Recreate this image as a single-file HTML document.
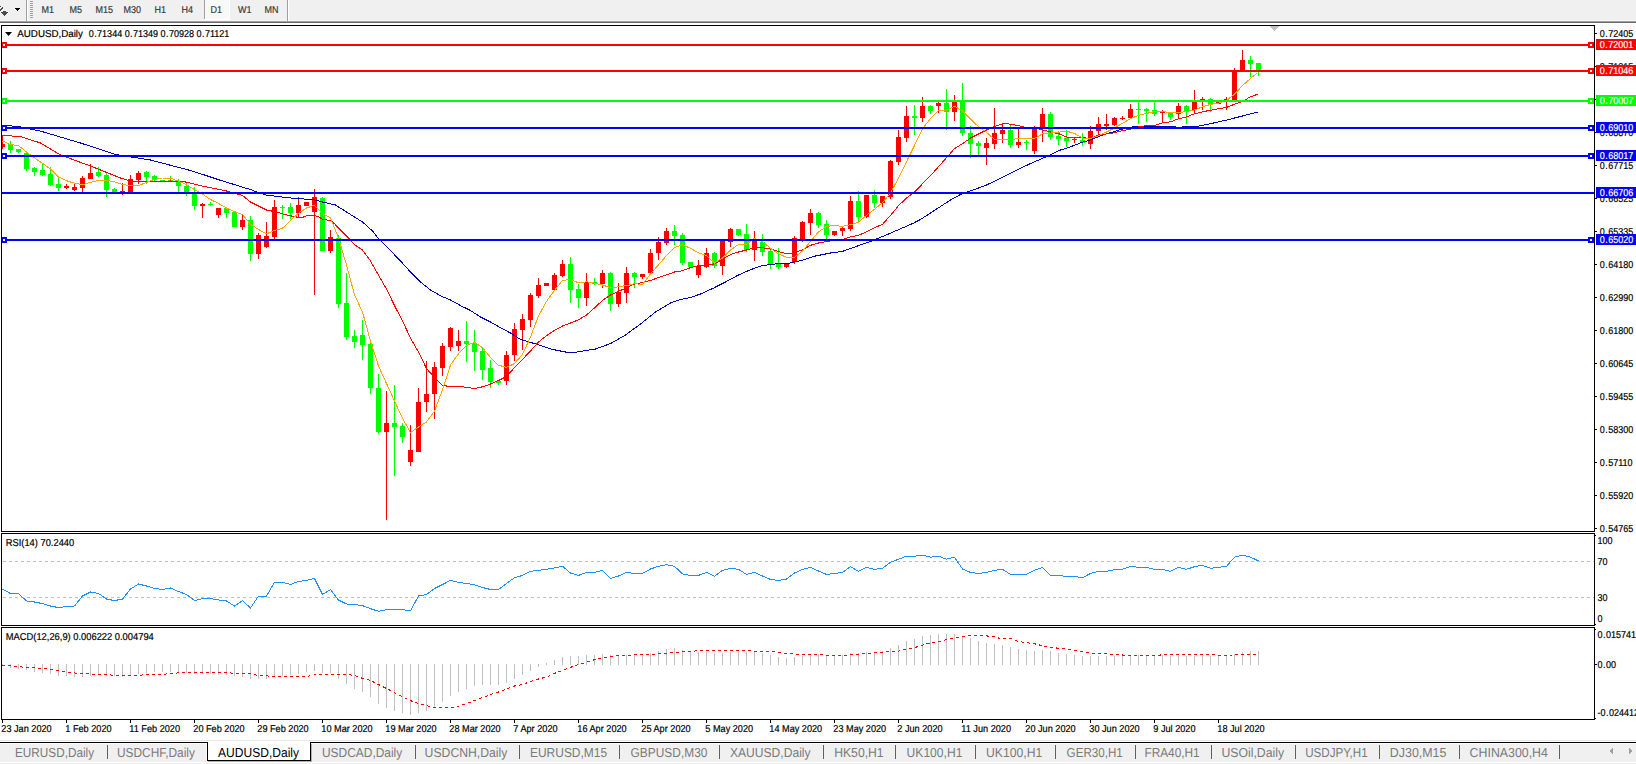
<!DOCTYPE html><html><head><meta charset="utf-8"><title>AUDUSD,Daily</title><style>
html,body{margin:0;padding:0;background:#fff;}body{width:1636px;height:764px;overflow:hidden;position:relative;font-family:"Liberation Sans",sans-serif;}
svg{position:absolute;left:0;top:0;display:block}
text{font-family:"Liberation Sans",sans-serif;font-size:10px;text-rendering:geometricPrecision;fill:#000;stroke:#000;stroke-width:0.2px}
.g{shape-rendering:crispEdges}
.tb{fill:#3a3a3a;stroke:#3a3a3a;stroke-width:0.2px}
.tab{font-size:13px;fill:#7a7a7a;stroke:none}
</style></head><body>
<svg width="1636" height="764" viewBox="0 0 1636 764">
<g class="g">
<rect x="0" y="0" width="1636" height="21" fill="#f0f0f0"/>
<rect x="0" y="20" width="1636" height="1" fill="#f7f7f7"/>
<rect x="0" y="21" width="1636" height="1" fill="#a0a0a0"/>
<rect x="0" y="22" width="1636" height="1" fill="#696969"/>
<rect x="26" y="0" width="1" height="21" fill="#a0a0a0"/>
<rect x="27" y="0" width="1" height="21" fill="#ffffff"/>
<rect x="287" y="0" width="1" height="21" fill="#a0a0a0"/>
<rect x="288" y="0" width="1" height="21" fill="#ffffff"/>
<rect x="30" y="1" width="3" height="1" fill="#a0a0a0"/>
<rect x="30" y="3" width="3" height="1" fill="#a0a0a0"/>
<rect x="30" y="5" width="3" height="1" fill="#a0a0a0"/>
<rect x="30" y="7" width="3" height="1" fill="#a0a0a0"/>
<rect x="30" y="9" width="3" height="1" fill="#a0a0a0"/>
<rect x="30" y="11" width="3" height="1" fill="#a0a0a0"/>
<rect x="30" y="13" width="3" height="1" fill="#a0a0a0"/>
<rect x="30" y="15" width="3" height="1" fill="#a0a0a0"/>
<rect x="30" y="17" width="3" height="1" fill="#a0a0a0"/>
<rect x="204" y="0" width="1" height="19" fill="#a0a0a0"/>
<rect x="205" y="0" width="24" height="19" fill="#f8f8f8"/>
<rect x="204" y="19" width="26" height="1" fill="#fff"/>
<rect x="229" y="0" width="1" height="20" fill="#fff"/>
<rect x="3" y="11" width="3" height="1" fill="#4a4a4a"/>
<rect x="1" y="12" width="7" height="1" fill="#4a4a4a"/>
<rect x="2" y="13" width="5" height="1" fill="#4a4a4a"/>
<rect x="3" y="14" width="3" height="1" fill="#4a4a4a"/>
<rect x="4" y="15" width="1" height="1" fill="#4a4a4a"/>
<rect x="0" y="6" width="1" height="1" fill="#4a4a4a"/>
<rect x="2" y="7" width="1" height="1" fill="#4a4a4a"/>
<rect x="1" y="8" width="2" height="1" fill="#4a4a4a"/>
<rect x="0" y="9" width="2" height="1" fill="#4a4a4a"/>
<rect x="0" y="10" width="1" height="1" fill="#4a4a4a"/>
<rect x="15" y="8" width="5" height="1" fill="#000"/>
<rect x="16" y="9" width="3" height="1" fill="#000"/>
<rect x="17" y="10" width="1" height="1" fill="#000"/>
<clipPath id="cp"><rect x="2" y="26" width="1592" height="505"/></clipPath><g clip-path="url(#cp)">
<rect x="2" y="136" width="1" height="13" fill="#ff0000"/>
<rect x="0" y="144" width="5" height="3" fill="#ff0000"/>
<rect x="10" y="141" width="1" height="12" fill="#00ff00"/>
<rect x="8" y="144" width="5" height="6" fill="#00ff00"/>
<rect x="18" y="149" width="1" height="4" fill="#00ff00"/>
<rect x="16" y="149" width="5" height="3" fill="#00ff00"/>
<rect x="26" y="153" width="1" height="18" fill="#00ff00"/>
<rect x="24" y="153" width="5" height="16" fill="#00ff00"/>
<rect x="34" y="167" width="1" height="9" fill="#00ff00"/>
<rect x="32" y="168" width="5" height="4" fill="#00ff00"/>
<rect x="42" y="164" width="1" height="12" fill="#00ff00"/>
<rect x="40" y="170" width="5" height="5" fill="#00ff00"/>
<rect x="50" y="167" width="1" height="19" fill="#00ff00"/>
<rect x="48" y="174" width="5" height="11" fill="#00ff00"/>
<rect x="58" y="178" width="1" height="13" fill="#00ff00"/>
<rect x="56" y="184" width="5" height="4" fill="#00ff00"/>
<rect x="66" y="184" width="1" height="5" fill="#ff0000"/>
<rect x="64" y="186" width="5" height="2" fill="#ff0000"/>
<rect x="74" y="184" width="1" height="7" fill="#ff0000"/>
<rect x="72" y="187" width="5" height="3" fill="#ff0000"/>
<rect x="82" y="176" width="1" height="16" fill="#ff0000"/>
<rect x="80" y="178" width="5" height="10" fill="#ff0000"/>
<rect x="90" y="164" width="1" height="15" fill="#ff0000"/>
<rect x="88" y="173" width="5" height="6" fill="#ff0000"/>
<rect x="98" y="167" width="1" height="10" fill="#00ff00"/>
<rect x="96" y="172" width="5" height="4" fill="#00ff00"/>
<rect x="106" y="173" width="1" height="24" fill="#00ff00"/>
<rect x="104" y="175" width="5" height="15" fill="#00ff00"/>
<rect x="114" y="188" width="1" height="4" fill="#00ff00"/>
<rect x="112" y="189" width="5" height="3" fill="#00ff00"/>
<rect x="122" y="183" width="1" height="12" fill="#ff0000"/>
<rect x="120" y="191" width="5" height="1" fill="#ff0000"/>
<rect x="130" y="175" width="1" height="18" fill="#ff0000"/>
<rect x="128" y="179" width="5" height="13" fill="#ff0000"/>
<rect x="138" y="171" width="1" height="13" fill="#ff0000"/>
<rect x="136" y="173" width="5" height="7" fill="#ff0000"/>
<rect x="146" y="171" width="1" height="13" fill="#00ff00"/>
<rect x="144" y="172" width="5" height="5" fill="#00ff00"/>
<rect x="154" y="175" width="1" height="7" fill="#00ff00"/>
<rect x="152" y="176" width="5" height="4" fill="#00ff00"/>
<rect x="162" y="180" width="1" height="2" fill="#00ff00"/>
<rect x="160" y="180" width="5" height="2" fill="#00ff00"/>
<rect x="170" y="176" width="1" height="5" fill="#00ff00"/>
<rect x="168" y="180" width="5" height="1" fill="#00ff00"/>
<rect x="178" y="179" width="1" height="13" fill="#00ff00"/>
<rect x="176" y="181" width="5" height="5" fill="#00ff00"/>
<rect x="186" y="183" width="1" height="13" fill="#00ff00"/>
<rect x="184" y="186" width="5" height="6" fill="#00ff00"/>
<rect x="194" y="187" width="1" height="23" fill="#00ff00"/>
<rect x="192" y="193" width="5" height="13" fill="#00ff00"/>
<rect x="202" y="203" width="1" height="15" fill="#ff0000"/>
<rect x="200" y="204" width="5" height="2" fill="#ff0000"/>
<rect x="210" y="202" width="1" height="4" fill="#00ff00"/>
<rect x="208" y="204" width="5" height="1" fill="#00ff00"/>
<rect x="218" y="208" width="1" height="10" fill="#ff0000"/>
<rect x="216" y="208" width="5" height="7" fill="#ff0000"/>
<rect x="226" y="207" width="1" height="11" fill="#00ff00"/>
<rect x="224" y="208" width="5" height="5" fill="#00ff00"/>
<rect x="234" y="212" width="1" height="15" fill="#00ff00"/>
<rect x="232" y="212" width="5" height="15" fill="#00ff00"/>
<rect x="242" y="215" width="1" height="15" fill="#ff0000"/>
<rect x="240" y="220" width="5" height="7" fill="#ff0000"/>
<rect x="250" y="216" width="1" height="45" fill="#00ff00"/>
<rect x="248" y="220" width="5" height="34" fill="#00ff00"/>
<rect x="258" y="233" width="1" height="26" fill="#ff0000"/>
<rect x="256" y="235" width="5" height="19" fill="#ff0000"/>
<rect x="266" y="222" width="1" height="26" fill="#ff0000"/>
<rect x="264" y="236" width="5" height="11" fill="#ff0000"/>
<rect x="274" y="200" width="1" height="39" fill="#ff0000"/>
<rect x="272" y="207" width="5" height="30" fill="#ff0000"/>
<rect x="282" y="205" width="1" height="14" fill="#00ff00"/>
<rect x="280" y="207" width="5" height="1" fill="#00ff00"/>
<rect x="290" y="203" width="1" height="16" fill="#00ff00"/>
<rect x="288" y="207" width="5" height="6" fill="#00ff00"/>
<rect x="298" y="197" width="1" height="20" fill="#ff0000"/>
<rect x="296" y="205" width="5" height="8" fill="#ff0000"/>
<rect x="306" y="202" width="1" height="4" fill="#ff0000"/>
<rect x="304" y="202" width="5" height="4" fill="#ff0000"/>
<rect x="314" y="189" width="1" height="106" fill="#ff0000"/>
<rect x="312" y="197" width="5" height="15" fill="#ff0000"/>
<rect x="322" y="197" width="1" height="54" fill="#00ff00"/>
<rect x="320" y="198" width="5" height="53" fill="#00ff00"/>
<rect x="330" y="230" width="1" height="23" fill="#ff0000"/>
<rect x="328" y="237" width="5" height="14" fill="#ff0000"/>
<rect x="338" y="235" width="1" height="73" fill="#00ff00"/>
<rect x="336" y="238" width="5" height="66" fill="#00ff00"/>
<rect x="346" y="273" width="1" height="67" fill="#00ff00"/>
<rect x="344" y="303" width="5" height="34" fill="#00ff00"/>
<rect x="354" y="330" width="1" height="18" fill="#00ff00"/>
<rect x="352" y="336" width="5" height="6" fill="#00ff00"/>
<rect x="362" y="320" width="1" height="40" fill="#00ff00"/>
<rect x="360" y="335" width="5" height="10" fill="#00ff00"/>
<rect x="370" y="339" width="1" height="55" fill="#00ff00"/>
<rect x="368" y="344" width="5" height="44" fill="#00ff00"/>
<rect x="378" y="374" width="1" height="60" fill="#00ff00"/>
<rect x="376" y="388" width="5" height="44" fill="#00ff00"/>
<rect x="386" y="391" width="1" height="129" fill="#ff0000"/>
<rect x="384" y="423" width="5" height="9" fill="#ff0000"/>
<rect x="394" y="385" width="1" height="91" fill="#00ff00"/>
<rect x="392" y="423" width="5" height="4" fill="#00ff00"/>
<rect x="402" y="423" width="1" height="20" fill="#00ff00"/>
<rect x="400" y="426" width="5" height="11" fill="#00ff00"/>
<rect x="410" y="425" width="1" height="41" fill="#ff0000"/>
<rect x="408" y="450" width="5" height="12" fill="#ff0000"/>
<rect x="418" y="388" width="1" height="64" fill="#ff0000"/>
<rect x="416" y="402" width="5" height="50" fill="#ff0000"/>
<rect x="426" y="361" width="1" height="51" fill="#ff0000"/>
<rect x="424" y="394" width="5" height="8" fill="#ff0000"/>
<rect x="434" y="362" width="1" height="57" fill="#ff0000"/>
<rect x="432" y="367" width="5" height="27" fill="#ff0000"/>
<rect x="442" y="343" width="1" height="33" fill="#ff0000"/>
<rect x="440" y="346" width="5" height="22" fill="#ff0000"/>
<rect x="450" y="327" width="1" height="24" fill="#ff0000"/>
<rect x="448" y="328" width="5" height="19" fill="#ff0000"/>
<rect x="458" y="330" width="1" height="21" fill="#ff0000"/>
<rect x="456" y="341" width="5" height="5" fill="#ff0000"/>
<rect x="466" y="321" width="1" height="41" fill="#00ff00"/>
<rect x="464" y="341" width="5" height="3" fill="#00ff00"/>
<rect x="474" y="330" width="1" height="41" fill="#00ff00"/>
<rect x="472" y="343" width="5" height="9" fill="#00ff00"/>
<rect x="482" y="347" width="1" height="33" fill="#00ff00"/>
<rect x="480" y="351" width="5" height="19" fill="#00ff00"/>
<rect x="490" y="360" width="1" height="28" fill="#00ff00"/>
<rect x="488" y="368" width="5" height="14" fill="#00ff00"/>
<rect x="498" y="381" width="1" height="4" fill="#00ff00"/>
<rect x="496" y="381" width="5" height="2" fill="#00ff00"/>
<rect x="506" y="351" width="1" height="34" fill="#ff0000"/>
<rect x="504" y="355" width="5" height="26" fill="#ff0000"/>
<rect x="514" y="323" width="1" height="38" fill="#ff0000"/>
<rect x="512" y="329" width="5" height="26" fill="#ff0000"/>
<rect x="522" y="314" width="1" height="36" fill="#ff0000"/>
<rect x="520" y="319" width="5" height="11" fill="#ff0000"/>
<rect x="530" y="293" width="1" height="34" fill="#ff0000"/>
<rect x="528" y="295" width="5" height="25" fill="#ff0000"/>
<rect x="538" y="278" width="1" height="20" fill="#ff0000"/>
<rect x="536" y="285" width="5" height="11" fill="#ff0000"/>
<rect x="546" y="283" width="1" height="3" fill="#ff0000"/>
<rect x="544" y="283" width="5" height="3" fill="#ff0000"/>
<rect x="554" y="273" width="1" height="17" fill="#ff0000"/>
<rect x="552" y="275" width="5" height="15" fill="#ff0000"/>
<rect x="562" y="260" width="1" height="17" fill="#ff0000"/>
<rect x="560" y="264" width="5" height="12" fill="#ff0000"/>
<rect x="570" y="257" width="1" height="46" fill="#00ff00"/>
<rect x="568" y="264" width="5" height="26" fill="#00ff00"/>
<rect x="578" y="284" width="1" height="24" fill="#00ff00"/>
<rect x="576" y="289" width="5" height="9" fill="#00ff00"/>
<rect x="586" y="273" width="1" height="33" fill="#ff0000"/>
<rect x="584" y="282" width="5" height="16" fill="#ff0000"/>
<rect x="594" y="278" width="1" height="7" fill="#00ff00"/>
<rect x="592" y="282" width="5" height="2" fill="#00ff00"/>
<rect x="602" y="270" width="1" height="18" fill="#ff0000"/>
<rect x="600" y="273" width="5" height="11" fill="#ff0000"/>
<rect x="610" y="272" width="1" height="39" fill="#00ff00"/>
<rect x="608" y="273" width="5" height="31" fill="#00ff00"/>
<rect x="618" y="283" width="1" height="24" fill="#ff0000"/>
<rect x="616" y="292" width="5" height="12" fill="#ff0000"/>
<rect x="626" y="267" width="1" height="36" fill="#ff0000"/>
<rect x="624" y="273" width="5" height="20" fill="#ff0000"/>
<rect x="634" y="272" width="1" height="16" fill="#00ff00"/>
<rect x="632" y="273" width="5" height="4" fill="#00ff00"/>
<rect x="642" y="274" width="1" height="5" fill="#ff0000"/>
<rect x="640" y="274" width="5" height="3" fill="#ff0000"/>
<rect x="650" y="249" width="1" height="24" fill="#ff0000"/>
<rect x="648" y="253" width="5" height="20" fill="#ff0000"/>
<rect x="658" y="237" width="1" height="23" fill="#ff0000"/>
<rect x="656" y="242" width="5" height="11" fill="#ff0000"/>
<rect x="666" y="228" width="1" height="17" fill="#ff0000"/>
<rect x="664" y="231" width="5" height="12" fill="#ff0000"/>
<rect x="674" y="225" width="1" height="20" fill="#00ff00"/>
<rect x="672" y="231" width="5" height="5" fill="#00ff00"/>
<rect x="682" y="233" width="1" height="32" fill="#00ff00"/>
<rect x="680" y="235" width="5" height="28" fill="#00ff00"/>
<rect x="690" y="262" width="1" height="5" fill="#00ff00"/>
<rect x="688" y="262" width="5" height="5" fill="#00ff00"/>
<rect x="698" y="260" width="1" height="18" fill="#ff0000"/>
<rect x="696" y="266" width="5" height="9" fill="#ff0000"/>
<rect x="706" y="248" width="1" height="20" fill="#ff0000"/>
<rect x="704" y="253" width="5" height="14" fill="#ff0000"/>
<rect x="714" y="252" width="1" height="16" fill="#00ff00"/>
<rect x="712" y="253" width="5" height="13" fill="#00ff00"/>
<rect x="722" y="240" width="1" height="35" fill="#ff0000"/>
<rect x="720" y="240" width="5" height="26" fill="#ff0000"/>
<rect x="730" y="228" width="1" height="19" fill="#ff0000"/>
<rect x="728" y="229" width="5" height="13" fill="#ff0000"/>
<rect x="738" y="229" width="1" height="7" fill="#00ff00"/>
<rect x="736" y="229" width="5" height="6" fill="#00ff00"/>
<rect x="746" y="224" width="1" height="28" fill="#00ff00"/>
<rect x="744" y="234" width="5" height="16" fill="#00ff00"/>
<rect x="754" y="231" width="1" height="30" fill="#ff0000"/>
<rect x="752" y="239" width="5" height="11" fill="#ff0000"/>
<rect x="762" y="234" width="1" height="22" fill="#00ff00"/>
<rect x="760" y="242" width="5" height="10" fill="#00ff00"/>
<rect x="770" y="250" width="1" height="19" fill="#00ff00"/>
<rect x="768" y="251" width="5" height="13" fill="#00ff00"/>
<rect x="778" y="248" width="1" height="21" fill="#00ff00"/>
<rect x="776" y="264" width="5" height="3" fill="#00ff00"/>
<rect x="786" y="264" width="1" height="4" fill="#ff0000"/>
<rect x="784" y="264" width="5" height="3" fill="#ff0000"/>
<rect x="794" y="236" width="1" height="28" fill="#ff0000"/>
<rect x="792" y="238" width="5" height="24" fill="#ff0000"/>
<rect x="802" y="221" width="1" height="21" fill="#ff0000"/>
<rect x="800" y="222" width="5" height="17" fill="#ff0000"/>
<rect x="810" y="209" width="1" height="26" fill="#ff0000"/>
<rect x="808" y="213" width="5" height="10" fill="#ff0000"/>
<rect x="818" y="212" width="1" height="16" fill="#00ff00"/>
<rect x="816" y="213" width="5" height="12" fill="#00ff00"/>
<rect x="826" y="220" width="1" height="19" fill="#00ff00"/>
<rect x="824" y="224" width="5" height="11" fill="#00ff00"/>
<rect x="834" y="231" width="1" height="5" fill="#ff0000"/>
<rect x="832" y="231" width="5" height="4" fill="#ff0000"/>
<rect x="842" y="226" width="1" height="10" fill="#ff0000"/>
<rect x="840" y="228" width="5" height="3" fill="#ff0000"/>
<rect x="850" y="196" width="1" height="35" fill="#ff0000"/>
<rect x="848" y="201" width="5" height="28" fill="#ff0000"/>
<rect x="858" y="191" width="1" height="31" fill="#00ff00"/>
<rect x="856" y="201" width="5" height="16" fill="#00ff00"/>
<rect x="866" y="195" width="1" height="23" fill="#ff0000"/>
<rect x="864" y="195" width="5" height="22" fill="#ff0000"/>
<rect x="874" y="190" width="1" height="18" fill="#00ff00"/>
<rect x="872" y="195" width="5" height="8" fill="#00ff00"/>
<rect x="882" y="196" width="1" height="11" fill="#ff0000"/>
<rect x="880" y="196" width="5" height="7" fill="#ff0000"/>
<rect x="890" y="160" width="1" height="39" fill="#ff0000"/>
<rect x="888" y="161" width="5" height="36" fill="#ff0000"/>
<rect x="898" y="130" width="1" height="35" fill="#ff0000"/>
<rect x="896" y="137" width="5" height="25" fill="#ff0000"/>
<rect x="906" y="106" width="1" height="36" fill="#ff0000"/>
<rect x="904" y="116" width="5" height="22" fill="#ff0000"/>
<rect x="914" y="105" width="1" height="30" fill="#00ff00"/>
<rect x="912" y="116" width="5" height="2" fill="#00ff00"/>
<rect x="922" y="97" width="1" height="25" fill="#ff0000"/>
<rect x="920" y="106" width="5" height="12" fill="#ff0000"/>
<rect x="930" y="105" width="1" height="9" fill="#00ff00"/>
<rect x="928" y="106" width="5" height="5" fill="#00ff00"/>
<rect x="938" y="102" width="1" height="11" fill="#ff0000"/>
<rect x="936" y="103" width="5" height="3" fill="#ff0000"/>
<rect x="946" y="89" width="1" height="41" fill="#00ff00"/>
<rect x="944" y="103" width="5" height="9" fill="#00ff00"/>
<rect x="954" y="95" width="1" height="26" fill="#ff0000"/>
<rect x="952" y="102" width="5" height="10" fill="#ff0000"/>
<rect x="962" y="83" width="1" height="53" fill="#00ff00"/>
<rect x="960" y="102" width="5" height="31" fill="#00ff00"/>
<rect x="970" y="126" width="1" height="32" fill="#00ff00"/>
<rect x="968" y="133" width="5" height="11" fill="#00ff00"/>
<rect x="978" y="141" width="1" height="14" fill="#00ff00"/>
<rect x="976" y="143" width="5" height="3" fill="#00ff00"/>
<rect x="986" y="138" width="1" height="27" fill="#ff0000"/>
<rect x="984" y="143" width="5" height="5" fill="#ff0000"/>
<rect x="994" y="108" width="1" height="41" fill="#ff0000"/>
<rect x="992" y="133" width="5" height="11" fill="#ff0000"/>
<rect x="1002" y="123" width="1" height="20" fill="#ff0000"/>
<rect x="1000" y="130" width="5" height="4" fill="#ff0000"/>
<rect x="1010" y="125" width="1" height="23" fill="#00ff00"/>
<rect x="1008" y="130" width="5" height="15" fill="#00ff00"/>
<rect x="1018" y="127" width="1" height="21" fill="#ff0000"/>
<rect x="1016" y="142" width="5" height="3" fill="#ff0000"/>
<rect x="1026" y="140" width="1" height="10" fill="#00ff00"/>
<rect x="1024" y="142" width="5" height="1" fill="#00ff00"/>
<rect x="1034" y="126" width="1" height="28" fill="#ff0000"/>
<rect x="1032" y="129" width="5" height="22" fill="#ff0000"/>
<rect x="1042" y="108" width="1" height="34" fill="#ff0000"/>
<rect x="1040" y="114" width="5" height="15" fill="#ff0000"/>
<rect x="1050" y="112" width="1" height="28" fill="#00ff00"/>
<rect x="1048" y="114" width="5" height="23" fill="#00ff00"/>
<rect x="1058" y="131" width="1" height="14" fill="#00ff00"/>
<rect x="1056" y="136" width="5" height="3" fill="#00ff00"/>
<rect x="1066" y="130" width="1" height="17" fill="#00ff00"/>
<rect x="1064" y="138" width="5" height="3" fill="#00ff00"/>
<rect x="1074" y="137" width="1" height="6" fill="#ff0000"/>
<rect x="1072" y="139" width="5" height="1" fill="#ff0000"/>
<rect x="1082" y="133" width="1" height="13" fill="#00ff00"/>
<rect x="1080" y="140" width="5" height="3" fill="#00ff00"/>
<rect x="1090" y="126" width="1" height="23" fill="#ff0000"/>
<rect x="1088" y="131" width="5" height="13" fill="#ff0000"/>
<rect x="1098" y="117" width="1" height="18" fill="#ff0000"/>
<rect x="1096" y="124" width="5" height="7" fill="#ff0000"/>
<rect x="1106" y="114" width="1" height="16" fill="#ff0000"/>
<rect x="1104" y="124" width="5" height="2" fill="#ff0000"/>
<rect x="1114" y="117" width="1" height="9" fill="#ff0000"/>
<rect x="1112" y="118" width="5" height="7" fill="#ff0000"/>
<rect x="1122" y="116" width="1" height="4" fill="#ff0000"/>
<rect x="1120" y="118" width="5" height="1" fill="#ff0000"/>
<rect x="1130" y="104" width="1" height="14" fill="#ff0000"/>
<rect x="1128" y="109" width="5" height="9" fill="#ff0000"/>
<rect x="1138" y="102" width="1" height="22" fill="#00ff00"/>
<rect x="1136" y="109" width="5" height="1" fill="#00ff00"/>
<rect x="1146" y="108" width="1" height="14" fill="#00ff00"/>
<rect x="1144" y="109" width="5" height="2" fill="#00ff00"/>
<rect x="1154" y="102" width="1" height="14" fill="#00ff00"/>
<rect x="1152" y="110" width="5" height="4" fill="#00ff00"/>
<rect x="1162" y="110" width="1" height="13" fill="#ff0000"/>
<rect x="1160" y="112" width="5" height="1" fill="#ff0000"/>
<rect x="1170" y="112" width="1" height="8" fill="#00ff00"/>
<rect x="1168" y="113" width="5" height="4" fill="#00ff00"/>
<rect x="1178" y="103" width="1" height="16" fill="#ff0000"/>
<rect x="1176" y="106" width="5" height="8" fill="#ff0000"/>
<rect x="1186" y="105" width="1" height="19" fill="#00ff00"/>
<rect x="1184" y="106" width="5" height="5" fill="#00ff00"/>
<rect x="1194" y="90" width="1" height="23" fill="#ff0000"/>
<rect x="1192" y="102" width="5" height="8" fill="#ff0000"/>
<rect x="1202" y="97" width="1" height="13" fill="#ff0000"/>
<rect x="1200" y="99" width="5" height="1" fill="#ff0000"/>
<rect x="1210" y="98" width="1" height="14" fill="#00ff00"/>
<rect x="1208" y="99" width="5" height="5" fill="#00ff00"/>
<rect x="1218" y="102" width="1" height="2" fill="#ff0000"/>
<rect x="1216" y="102" width="5" height="2" fill="#ff0000"/>
<rect x="1226" y="97" width="1" height="13" fill="#ff0000"/>
<rect x="1224" y="99" width="5" height="1" fill="#ff0000"/>
<rect x="1234" y="68" width="1" height="32" fill="#ff0000"/>
<rect x="1232" y="71" width="5" height="29" fill="#ff0000"/>
<rect x="1242" y="50" width="1" height="21" fill="#ff0000"/>
<rect x="1240" y="60" width="5" height="11" fill="#ff0000"/>
<rect x="1250" y="56" width="1" height="21" fill="#00ff00"/>
<rect x="1248" y="60" width="5" height="4" fill="#00ff00"/>
<rect x="1258" y="63" width="1" height="13" fill="#00ff00"/>
<rect x="1256" y="63" width="5" height="7" fill="#00ff00"/>
</g>
</g>
<g class="g">
<polyline points="2.5,125.0 20.5,127.0 40.5,131.1 80.5,143.0 115.5,154.5 150.5,160.0 188.5,170.0 200.5,173.7 219.5,180.0 250.5,189.6 265.5,195.0 290.5,198.0 314.5,199.8 322.5,202.0 335.5,205.0 350.5,214.5 362.5,222.0 372.5,231.0 378.5,238.8 390.5,250.6 400.5,261.0 410.5,272.0 420.5,282.0 430.5,290.0 440.5,295.8 450.5,300.0 460.5,305.6 470.5,310.5 480.5,317.0 490.5,322.0 500.5,327.7 510.5,333.0 520.5,339.4 540.5,345.4 550.5,349.0 560.5,351.0 570.5,353.0 580.5,351.4 595.5,349.0 610.5,343.6 625.5,335.0 640.5,324.0 655.5,312.0 670.5,303.0 680.5,299.6 690.5,297.4 700.5,294.0 712.5,288.6 725.5,282.0 738.5,275.0 750.5,269.7 762.5,265.5 775.5,264.0 785.5,263.9 800.5,260.7 815.5,256.0 830.5,253.0 842.5,251.4 855.5,246.7 870.5,241.5 885.5,235.3 900.5,228.8 912.5,223.6 920.5,219.5 950.5,200.0 960.5,194.5 970.5,190.9 985.5,185.5 1000.5,178.3 1015.5,170.8 1030.5,163.5 1045.5,157.1 1060.5,150.0 1070.5,146.8 1080.5,142.9 1090.5,139.8 1100.5,135.8 1110.5,132.7 1120.5,129.6 1128.5,128.0 1134.5,126.1 1174.5,126.1 1176.5,127.5 1181.5,127.5 1183.5,126.1 1198.5,126.1 1210.5,123.7 1225.5,120.3 1240.5,116.5 1258.0,112.1" fill="none" stroke="#0000b4" stroke-width="1" />
<polyline points="2.5,135.5 20.5,136.5 40.5,143.0 60.5,155.0 90.5,166.0 120.5,178.0 130.5,181.0 150.5,181.5 165.5,182.0 170.5,181.0 180.5,181.5 185.5,182.0 200.5,185.6 226.5,191.0 242.5,195.5 250.5,202.0 258.5,206.0 266.5,210.0 274.5,211.6 282.5,213.8 290.5,215.8 298.5,217.4 302.5,217.4 306.5,215.8 314.5,215.8 318.5,216.5 322.5,219.5 330.5,220.4 334.5,223.7 338.5,228.0 346.5,236.0 354.5,244.6 362.5,250.0 370.5,261.0 378.5,275.0 386.5,289.0 394.5,305.6 402.5,321.0 410.5,338.0 418.5,352.0 426.5,368.5 434.5,377.5 442.5,385.5 450.5,386.5 458.5,386.5 466.5,387.3 474.5,388.5 482.5,386.8 490.5,384.0 498.5,380.5 506.5,376.6 514.5,367.5 522.5,359.4 530.5,351.0 538.5,342.0 546.5,335.7 554.5,330.4 562.5,326.0 570.5,323.0 578.5,319.8 586.5,315.0 594.5,307.9 602.5,300.5 610.5,295.0 618.5,291.4 626.5,287.7 634.5,284.0 642.5,282.6 650.5,280.4 658.5,277.6 666.5,274.9 674.5,272.0 682.5,270.7 690.5,267.6 698.5,265.7 706.5,264.8 714.5,263.9 722.5,259.3 730.5,254.5 738.5,252.0 746.5,250.0 754.5,247.7 762.5,247.7 770.5,249.0 778.5,251.5 786.5,253.8 794.5,252.9 802.5,249.7 810.5,245.3 818.5,243.0 826.5,241.5 834.5,240.4 842.5,239.4 850.5,236.9 858.5,235.3 866.5,231.9 874.5,227.7 882.5,224.3 890.5,215.4 898.5,205.7 906.5,198.0 914.5,192.0 922.5,183.8 930.5,175.7 938.5,166.7 946.5,157.7 954.5,148.6 962.5,143.7 970.5,138.0 978.5,134.0 986.5,130.0 994.5,126.6 1002.5,123.7 1010.5,124.1 1018.5,125.7 1026.5,127.7 1034.5,128.0 1042.5,129.8 1050.5,132.0 1058.5,133.6 1066.5,137.0 1074.5,137.2 1082.5,137.4 1090.5,138.7 1098.5,135.0 1106.5,134.0 1114.5,132.7 1122.5,130.7 1130.5,129.0 1138.5,127.0 1146.5,125.6 1154.5,125.4 1162.5,122.8 1170.5,121.8 1178.5,118.8 1186.5,116.8 1194.5,113.8 1202.5,111.8 1210.5,110.2 1218.5,108.8 1226.5,107.4 1234.5,104.2 1242.5,101.4 1250.5,96.8 1257.5,94.3" fill="none" stroke="#ff0000" stroke-width="1" />
<polyline points="2.5,141.0 10.5,144.5 18.5,145.6 26.5,152.0 34.5,157.8 42.5,163.4 50.5,169.0 58.5,177.0 66.5,180.7 74.5,183.3 82.5,184.6 90.5,182.4 98.5,180.4 106.5,180.4 114.5,181.7 122.5,184.6 130.5,185.6 138.5,185.6 146.5,182.4 154.5,179.4 162.5,178.0 170.5,178.0 178.5,181.3 186.5,184.6 194.5,189.6 202.5,194.2 210.5,199.5 218.5,203.4 226.5,208.0 234.5,211.6 242.5,214.5 250.5,224.3 258.5,229.5 266.5,233.9 274.5,230.5 282.5,228.2 290.5,220.4 298.5,213.2 306.5,208.0 314.5,205.3 322.5,213.8 330.5,217.8 338.5,238.0 346.5,265.0 354.5,294.8 362.5,312.0 370.5,341.0 378.5,366.0 386.5,383.5 394.5,401.0 402.5,418.4 410.5,432.5 418.5,427.0 426.5,422.0 434.5,411.0 442.5,389.8 450.5,365.0 458.5,353.7 466.5,345.6 474.5,342.3 482.5,347.6 490.5,357.5 498.5,365.2 506.5,367.4 514.5,363.5 522.5,354.5 530.5,337.0 538.5,316.0 546.5,301.4 554.5,290.5 562.5,280.4 570.5,279.5 578.5,282.8 586.5,281.8 594.5,283.1 602.5,285.0 610.5,287.7 618.5,286.8 626.5,285.5 634.5,283.7 642.5,284.4 650.5,274.0 658.5,264.8 666.5,255.6 674.5,247.4 682.5,244.7 690.5,248.3 698.5,252.9 706.5,255.6 714.5,263.0 722.5,258.0 730.5,250.0 738.5,244.5 746.5,244.2 754.5,238.3 762.5,241.5 770.5,248.4 778.5,253.8 786.5,257.3 794.5,257.3 802.5,251.1 810.5,241.5 818.5,231.9 826.5,226.4 834.5,225.4 842.5,226.4 850.5,224.7 858.5,222.2 866.5,215.4 874.5,209.2 882.5,202.7 890.5,193.0 898.5,178.0 906.5,161.7 914.5,145.4 922.5,129.0 930.5,118.4 938.5,110.7 946.5,110.2 954.5,106.1 962.5,111.0 970.5,119.2 978.5,126.6 986.5,132.3 994.5,139.4 1002.5,139.4 1010.5,139.4 1018.5,138.7 1026.5,138.7 1034.5,138.3 1042.5,133.9 1050.5,133.1 1058.5,132.3 1066.5,131.1 1074.5,133.5 1082.5,138.0 1090.5,138.7 1098.5,135.8 1106.5,132.0 1114.5,128.0 1122.5,123.3 1130.5,118.6 1138.5,115.4 1146.5,113.5 1154.5,111.5 1162.5,111.5 1170.5,112.6 1178.5,112.6 1186.5,111.5 1194.5,110.0 1202.5,106.8 1210.5,104.4 1218.5,103.2 1226.5,100.5 1234.5,94.2 1242.5,85.6 1250.5,78.5 1257.5,72.7" fill="none" stroke="#ffa500" stroke-width="1" />
<rect x="1" y="44" width="1594" height="2" fill="#ff0000"/>
<rect x="1" y="42" width="6" height="6" fill="#ff0000"/>
<rect x="3" y="44" width="2" height="2" fill="#fff"/>
<rect x="1588" y="42" width="6" height="6" fill="#ff0000"/>
<rect x="1590" y="44" width="2" height="2" fill="#fff"/>
<rect x="1" y="70" width="1594" height="2" fill="#ff0000"/>
<rect x="1" y="68" width="6" height="6" fill="#ff0000"/>
<rect x="3" y="70" width="2" height="2" fill="#fff"/>
<rect x="1588" y="68" width="6" height="6" fill="#ff0000"/>
<rect x="1590" y="70" width="2" height="2" fill="#fff"/>
<rect x="1" y="100" width="1594" height="2" fill="#00ff00"/>
<rect x="1" y="98" width="6" height="6" fill="#00ff00"/>
<rect x="3" y="100" width="2" height="2" fill="#fff"/>
<rect x="1588" y="98" width="6" height="6" fill="#00ff00"/>
<rect x="1590" y="100" width="2" height="2" fill="#fff"/>
<rect x="1" y="127" width="1594" height="2" fill="#0000ff"/>
<rect x="1" y="125" width="6" height="6" fill="#0000ff"/>
<rect x="3" y="127" width="2" height="2" fill="#fff"/>
<rect x="1588" y="125" width="6" height="6" fill="#0000ff"/>
<rect x="1590" y="127" width="2" height="2" fill="#fff"/>
<rect x="1" y="155" width="1594" height="2" fill="#0000ff"/>
<rect x="1" y="153" width="6" height="6" fill="#0000ff"/>
<rect x="3" y="155" width="2" height="2" fill="#fff"/>
<rect x="1588" y="153" width="6" height="6" fill="#0000ff"/>
<rect x="1590" y="155" width="2" height="2" fill="#fff"/>
<rect x="1" y="192" width="1594" height="2" fill="#0000ff"/>
<rect x="1" y="239" width="1594" height="2" fill="#0000ff"/>
<rect x="1" y="237" width="6" height="6" fill="#0000ff"/>
<rect x="3" y="239" width="2" height="2" fill="#fff"/>
<rect x="1588" y="237" width="6" height="6" fill="#0000ff"/>
<rect x="1590" y="239" width="2" height="2" fill="#fff"/>
<rect x="1270" y="26" width="9" height="1" fill="#c0c0c0"/>
<rect x="1271" y="27" width="7" height="1" fill="#c0c0c0"/>
<rect x="1272" y="28" width="5" height="1" fill="#c0c0c0"/>
<rect x="1273" y="29" width="3" height="1" fill="#c0c0c0"/>
<rect x="1274" y="30" width="1" height="1" fill="#c0c0c0"/>
<line x1="3" y1="561.5" x2="1594" y2="561.5" stroke="#c0c0c0" stroke-width="1" stroke-dasharray="3 3"/>
<line x1="3" y1="597.5" x2="1594" y2="597.5" stroke="#c0c0c0" stroke-width="1" stroke-dasharray="3 3"/>
<polyline points="2.5,589.0 10.5,593.5 18.5,593.5 26.5,601.0 34.5,602.0 42.5,603.6 50.5,606.0 58.5,607.6 66.5,606.6 74.5,606.0 82.5,596.0 90.5,592.0 98.5,593.5 106.5,599.0 114.5,600.6 122.5,599.0 130.5,589.0 138.5,584.0 146.5,586.0 154.5,588.5 162.5,589.5 170.5,588.0 178.5,591.5 186.5,594.5 194.5,600.6 202.5,598.6 210.5,598.6 218.5,600.0 226.5,601.0 234.5,606.0 242.5,600.6 250.5,608.0 258.5,596.0 266.5,596.0 274.5,582.4 282.5,582.4 290.5,584.5 298.5,581.4 306.5,580.4 314.5,578.4 322.5,594.5 330.5,589.5 338.5,600.0 346.5,604.0 354.5,604.6 362.5,605.6 370.5,608.7 378.5,611.3 386.5,609.7 394.5,609.7 402.5,609.7 410.5,610.7 418.5,596.0 426.5,594.5 434.5,588.5 442.5,584.5 450.5,580.4 458.5,582.4 466.5,583.4 474.5,584.9 482.5,587.5 490.5,589.5 498.5,589.5 506.5,583.4 514.5,577.8 522.5,575.4 530.5,571.3 538.5,570.3 546.5,569.3 554.5,567.9 562.5,566.3 570.5,573.0 578.5,575.4 586.5,572.4 594.5,572.4 602.5,570.3 610.5,578.4 618.5,576.0 626.5,572.4 634.5,573.4 642.5,573.4 650.5,569.0 658.5,566.3 666.5,564.7 674.5,566.3 682.5,574.0 690.5,575.4 698.5,575.4 706.5,572.4 714.5,576.4 722.5,570.3 730.5,568.3 738.5,569.3 746.5,574.4 754.5,572.4 762.5,576.0 770.5,579.4 778.5,580.4 786.5,579.0 794.5,573.0 802.5,569.3 810.5,567.3 818.5,571.0 826.5,574.4 834.5,573.4 842.5,572.4 850.5,566.7 858.5,571.3 866.5,567.3 874.5,569.3 882.5,568.3 890.5,562.3 898.5,559.2 906.5,556.2 914.5,556.2 922.5,555.2 930.5,557.2 938.5,556.2 946.5,559.2 954.5,557.2 962.5,569.0 970.5,572.4 978.5,573.4 986.5,572.4 994.5,570.3 1002.5,569.3 1010.5,574.4 1018.5,574.4 1026.5,574.4 1034.5,570.3 1042.5,567.3 1050.5,575.4 1058.5,575.4 1066.5,576.4 1074.5,576.4 1082.5,577.8 1090.5,573.4 1098.5,571.3 1106.5,571.3 1114.5,569.7 1122.5,569.3 1130.5,566.3 1138.5,567.3 1146.5,567.3 1154.5,569.3 1162.5,569.3 1170.5,571.3 1178.5,567.3 1186.5,569.3 1194.5,566.7 1202.5,565.3 1210.5,568.3 1218.5,567.3 1226.5,566.3 1234.5,557.2 1242.5,555.2 1250.5,557.2 1258.5,560.9" fill="none" stroke="#1e90ff" stroke-width="1" />
<rect x="2" y="664" width="1" height="2" fill="#c0c0c0"/>
<rect x="10" y="664" width="1" height="4" fill="#c0c0c0"/>
<rect x="18" y="664" width="1" height="5" fill="#c0c0c0"/>
<rect x="26" y="664" width="1" height="6" fill="#c0c0c0"/>
<rect x="34" y="664" width="1" height="8" fill="#c0c0c0"/>
<rect x="42" y="664" width="1" height="9" fill="#c0c0c0"/>
<rect x="50" y="664" width="1" height="10" fill="#c0c0c0"/>
<rect x="58" y="664" width="1" height="12" fill="#c0c0c0"/>
<rect x="66" y="664" width="1" height="12" fill="#c0c0c0"/>
<rect x="74" y="664" width="1" height="13" fill="#c0c0c0"/>
<rect x="82" y="664" width="1" height="13" fill="#c0c0c0"/>
<rect x="90" y="664" width="1" height="12" fill="#c0c0c0"/>
<rect x="98" y="664" width="1" height="11" fill="#c0c0c0"/>
<rect x="106" y="664" width="1" height="12" fill="#c0c0c0"/>
<rect x="114" y="664" width="1" height="12" fill="#c0c0c0"/>
<rect x="122" y="664" width="1" height="13" fill="#c0c0c0"/>
<rect x="130" y="664" width="1" height="11" fill="#c0c0c0"/>
<rect x="138" y="664" width="1" height="10" fill="#c0c0c0"/>
<rect x="146" y="664" width="1" height="9" fill="#c0c0c0"/>
<rect x="154" y="664" width="1" height="8" fill="#c0c0c0"/>
<rect x="162" y="664" width="1" height="8" fill="#c0c0c0"/>
<rect x="170" y="664" width="1" height="8" fill="#c0c0c0"/>
<rect x="178" y="664" width="1" height="8" fill="#c0c0c0"/>
<rect x="186" y="664" width="1" height="9" fill="#c0c0c0"/>
<rect x="194" y="664" width="1" height="10" fill="#c0c0c0"/>
<rect x="202" y="664" width="1" height="10" fill="#c0c0c0"/>
<rect x="210" y="664" width="1" height="10" fill="#c0c0c0"/>
<rect x="218" y="664" width="1" height="11" fill="#c0c0c0"/>
<rect x="226" y="664" width="1" height="11" fill="#c0c0c0"/>
<rect x="234" y="664" width="1" height="12" fill="#c0c0c0"/>
<rect x="242" y="664" width="1" height="13" fill="#c0c0c0"/>
<rect x="250" y="664" width="1" height="15" fill="#c0c0c0"/>
<rect x="258" y="664" width="1" height="15" fill="#c0c0c0"/>
<rect x="266" y="664" width="1" height="15" fill="#c0c0c0"/>
<rect x="274" y="664" width="1" height="13" fill="#c0c0c0"/>
<rect x="282" y="664" width="1" height="12" fill="#c0c0c0"/>
<rect x="290" y="664" width="1" height="11" fill="#c0c0c0"/>
<rect x="298" y="664" width="1" height="10" fill="#c0c0c0"/>
<rect x="306" y="664" width="1" height="8" fill="#c0c0c0"/>
<rect x="314" y="664" width="1" height="7" fill="#c0c0c0"/>
<rect x="322" y="664" width="1" height="9" fill="#c0c0c0"/>
<rect x="330" y="664" width="1" height="9" fill="#c0c0c0"/>
<rect x="338" y="664" width="1" height="15" fill="#c0c0c0"/>
<rect x="346" y="664" width="1" height="20" fill="#c0c0c0"/>
<rect x="354" y="664" width="1" height="25" fill="#c0c0c0"/>
<rect x="362" y="664" width="1" height="28" fill="#c0c0c0"/>
<rect x="370" y="664" width="1" height="33" fill="#c0c0c0"/>
<rect x="378" y="664" width="1" height="40" fill="#c0c0c0"/>
<rect x="386" y="664" width="1" height="44" fill="#c0c0c0"/>
<rect x="394" y="664" width="1" height="47" fill="#c0c0c0"/>
<rect x="402" y="664" width="1" height="49" fill="#c0c0c0"/>
<rect x="410" y="664" width="1" height="51" fill="#c0c0c0"/>
<rect x="418" y="664" width="1" height="49" fill="#c0c0c0"/>
<rect x="426" y="664" width="1" height="47" fill="#c0c0c0"/>
<rect x="434" y="664" width="1" height="43" fill="#c0c0c0"/>
<rect x="442" y="664" width="1" height="38" fill="#c0c0c0"/>
<rect x="450" y="664" width="1" height="32" fill="#c0c0c0"/>
<rect x="458" y="664" width="1" height="28" fill="#c0c0c0"/>
<rect x="466" y="664" width="1" height="25" fill="#c0c0c0"/>
<rect x="474" y="664" width="1" height="22" fill="#c0c0c0"/>
<rect x="482" y="664" width="1" height="21" fill="#c0c0c0"/>
<rect x="490" y="664" width="1" height="21" fill="#c0c0c0"/>
<rect x="498" y="664" width="1" height="21" fill="#c0c0c0"/>
<rect x="506" y="664" width="1" height="19" fill="#c0c0c0"/>
<rect x="514" y="664" width="1" height="15" fill="#c0c0c0"/>
<rect x="522" y="664" width="1" height="11" fill="#c0c0c0"/>
<rect x="530" y="664" width="1" height="7" fill="#c0c0c0"/>
<rect x="538" y="664" width="1" height="3" fill="#c0c0c0"/>
<rect x="546" y="663" width="1" height="2" fill="#c0c0c0"/>
<rect x="554" y="660" width="1" height="5" fill="#c0c0c0"/>
<rect x="562" y="657" width="1" height="8" fill="#c0c0c0"/>
<rect x="570" y="656" width="1" height="9" fill="#c0c0c0"/>
<rect x="578" y="656" width="1" height="9" fill="#c0c0c0"/>
<rect x="586" y="655" width="1" height="10" fill="#c0c0c0"/>
<rect x="594" y="655" width="1" height="10" fill="#c0c0c0"/>
<rect x="602" y="654" width="1" height="11" fill="#c0c0c0"/>
<rect x="610" y="655" width="1" height="10" fill="#c0c0c0"/>
<rect x="618" y="655" width="1" height="10" fill="#c0c0c0"/>
<rect x="626" y="655" width="1" height="10" fill="#c0c0c0"/>
<rect x="634" y="654" width="1" height="11" fill="#c0c0c0"/>
<rect x="642" y="654" width="1" height="11" fill="#c0c0c0"/>
<rect x="650" y="653" width="1" height="12" fill="#c0c0c0"/>
<rect x="658" y="651" width="1" height="14" fill="#c0c0c0"/>
<rect x="666" y="649" width="1" height="16" fill="#c0c0c0"/>
<rect x="674" y="648" width="1" height="17" fill="#c0c0c0"/>
<rect x="682" y="650" width="1" height="15" fill="#c0c0c0"/>
<rect x="690" y="651" width="1" height="14" fill="#c0c0c0"/>
<rect x="698" y="652" width="1" height="13" fill="#c0c0c0"/>
<rect x="706" y="652" width="1" height="13" fill="#c0c0c0"/>
<rect x="714" y="653" width="1" height="12" fill="#c0c0c0"/>
<rect x="722" y="653" width="1" height="12" fill="#c0c0c0"/>
<rect x="730" y="652" width="1" height="13" fill="#c0c0c0"/>
<rect x="738" y="651" width="1" height="14" fill="#c0c0c0"/>
<rect x="746" y="652" width="1" height="13" fill="#c0c0c0"/>
<rect x="754" y="652" width="1" height="13" fill="#c0c0c0"/>
<rect x="762" y="653" width="1" height="12" fill="#c0c0c0"/>
<rect x="770" y="655" width="1" height="10" fill="#c0c0c0"/>
<rect x="778" y="657" width="1" height="8" fill="#c0c0c0"/>
<rect x="786" y="658" width="1" height="7" fill="#c0c0c0"/>
<rect x="794" y="657" width="1" height="8" fill="#c0c0c0"/>
<rect x="802" y="656" width="1" height="9" fill="#c0c0c0"/>
<rect x="810" y="654" width="1" height="11" fill="#c0c0c0"/>
<rect x="818" y="654" width="1" height="11" fill="#c0c0c0"/>
<rect x="826" y="655" width="1" height="10" fill="#c0c0c0"/>
<rect x="834" y="655" width="1" height="10" fill="#c0c0c0"/>
<rect x="842" y="655" width="1" height="10" fill="#c0c0c0"/>
<rect x="850" y="653" width="1" height="12" fill="#c0c0c0"/>
<rect x="858" y="653" width="1" height="12" fill="#c0c0c0"/>
<rect x="866" y="652" width="1" height="13" fill="#c0c0c0"/>
<rect x="874" y="652" width="1" height="13" fill="#c0c0c0"/>
<rect x="882" y="651" width="1" height="14" fill="#c0c0c0"/>
<rect x="890" y="648" width="1" height="17" fill="#c0c0c0"/>
<rect x="898" y="645" width="1" height="20" fill="#c0c0c0"/>
<rect x="906" y="641" width="1" height="24" fill="#c0c0c0"/>
<rect x="914" y="639" width="1" height="26" fill="#c0c0c0"/>
<rect x="922" y="636" width="1" height="29" fill="#c0c0c0"/>
<rect x="930" y="635" width="1" height="30" fill="#c0c0c0"/>
<rect x="938" y="634" width="1" height="31" fill="#c0c0c0"/>
<rect x="946" y="634" width="1" height="31" fill="#c0c0c0"/>
<rect x="954" y="634" width="1" height="31" fill="#c0c0c0"/>
<rect x="962" y="636" width="1" height="29" fill="#c0c0c0"/>
<rect x="970" y="638" width="1" height="27" fill="#c0c0c0"/>
<rect x="978" y="641" width="1" height="24" fill="#c0c0c0"/>
<rect x="986" y="643" width="1" height="22" fill="#c0c0c0"/>
<rect x="994" y="644" width="1" height="21" fill="#c0c0c0"/>
<rect x="1002" y="645" width="1" height="20" fill="#c0c0c0"/>
<rect x="1010" y="647" width="1" height="18" fill="#c0c0c0"/>
<rect x="1018" y="649" width="1" height="16" fill="#c0c0c0"/>
<rect x="1026" y="650" width="1" height="15" fill="#c0c0c0"/>
<rect x="1034" y="651" width="1" height="14" fill="#c0c0c0"/>
<rect x="1042" y="650" width="1" height="15" fill="#c0c0c0"/>
<rect x="1050" y="651" width="1" height="14" fill="#c0c0c0"/>
<rect x="1058" y="653" width="1" height="12" fill="#c0c0c0"/>
<rect x="1066" y="654" width="1" height="11" fill="#c0c0c0"/>
<rect x="1074" y="655" width="1" height="10" fill="#c0c0c0"/>
<rect x="1082" y="656" width="1" height="9" fill="#c0c0c0"/>
<rect x="1090" y="656" width="1" height="9" fill="#c0c0c0"/>
<rect x="1098" y="656" width="1" height="9" fill="#c0c0c0"/>
<rect x="1106" y="656" width="1" height="9" fill="#c0c0c0"/>
<rect x="1114" y="656" width="1" height="9" fill="#c0c0c0"/>
<rect x="1122" y="656" width="1" height="9" fill="#c0c0c0"/>
<rect x="1130" y="655" width="1" height="10" fill="#c0c0c0"/>
<rect x="1138" y="655" width="1" height="10" fill="#c0c0c0"/>
<rect x="1146" y="655" width="1" height="10" fill="#c0c0c0"/>
<rect x="1154" y="655" width="1" height="10" fill="#c0c0c0"/>
<rect x="1162" y="655" width="1" height="10" fill="#c0c0c0"/>
<rect x="1170" y="656" width="1" height="9" fill="#c0c0c0"/>
<rect x="1178" y="656" width="1" height="9" fill="#c0c0c0"/>
<rect x="1186" y="656" width="1" height="9" fill="#c0c0c0"/>
<rect x="1194" y="656" width="1" height="9" fill="#c0c0c0"/>
<rect x="1202" y="655" width="1" height="10" fill="#c0c0c0"/>
<rect x="1210" y="656" width="1" height="9" fill="#c0c0c0"/>
<rect x="1218" y="656" width="1" height="9" fill="#c0c0c0"/>
<rect x="1226" y="656" width="1" height="9" fill="#c0c0c0"/>
<rect x="1234" y="654" width="1" height="11" fill="#c0c0c0"/>
<rect x="1242" y="652" width="1" height="13" fill="#c0c0c0"/>
<rect x="1250" y="651" width="1" height="14" fill="#c0c0c0"/>
<rect x="1258" y="651" width="1" height="14" fill="#c0c0c0"/>
<polyline points="2.5,665.3 10.5,666.0 26.5,667.4 42.5,668.4 58.5,670.4 66.5,671.8 74.5,673.0 90.5,674.0 106.5,674.4 114.5,675.4 138.5,675.4 146.5,674.4 162.5,674.4 170.5,673.4 186.5,672.4 226.5,672.4 234.5,673.4 250.5,674.0 258.5,675.4 274.5,676.4 306.5,676.4 314.5,675.0 330.5,674.4 346.5,674.4 354.5,675.4 362.5,678.4 370.5,680.5 378.5,684.5 386.5,688.5 394.5,692.6 402.5,696.6 410.5,700.6 418.5,703.7 426.5,705.7 434.5,707.7 442.5,708.0 450.5,707.7 458.5,706.3 466.5,703.7 474.5,700.6 482.5,697.6 490.5,694.6 498.5,692.0 506.5,689.0 514.5,686.0 522.5,684.5 530.5,681.5 538.5,679.0 546.5,677.0 554.5,673.4 562.5,670.4 570.5,667.4 578.5,664.3 586.5,662.3 594.5,659.7 602.5,657.9 610.5,656.7 618.5,655.7 626.5,655.3 634.5,654.9 642.5,654.5 650.5,654.4 666.5,653.2 674.5,652.2 690.5,651.6 698.5,650.6 740.5,650.6 770.5,651.6 780.5,652.2 786.5,653.6 800.5,654.4 820.5,654.9 835.5,655.5 845.5,655.3 860.5,654.2 866.5,653.4 880.5,652.4 898.5,651.2 906.5,648.8 914.5,647.6 922.5,645.2 930.5,642.7 938.5,641.7 946.5,639.5 954.5,638.0 962.5,636.7 970.5,635.3 982.5,635.3 994.5,637.0 1000.5,638.5 1012.5,639.0 1018.5,641.5 1035.5,644.0 1046.5,646.8 1066.5,649.2 1074.5,650.6 1094.5,653.5 1120.5,654.5 1124.5,655.5 1158.5,655.5 1162.5,654.5 1212.5,654.5 1217.5,655.5 1228.5,655.5 1236.5,654.5 1254.5,654.5 1258.5,653.3" fill="none" stroke="#ff0000" stroke-width="1" stroke-dasharray="3 3"/>
<rect x="1" y="25" width="1594" height="1" fill="#000"/>
<rect x="1" y="531" width="1594" height="1" fill="#000"/>
<rect x="1" y="25" width="1" height="507" fill="#000"/>
<rect x="1594" y="25" width="1" height="507" fill="#000"/>
<rect x="1" y="533" width="1594" height="1" fill="#000"/>
<rect x="1" y="625" width="1594" height="1" fill="#000"/>
<rect x="1" y="533" width="1" height="93" fill="#000"/>
<rect x="1594" y="533" width="1" height="93" fill="#000"/>
<rect x="1" y="627" width="1594" height="1" fill="#000"/>
<rect x="1" y="719" width="1594" height="1" fill="#000"/>
<rect x="1" y="627" width="1" height="93" fill="#000"/>
<rect x="1594" y="627" width="1" height="93" fill="#000"/>
<rect x="1595" y="33" width="2" height="1" fill="#000"/>
<rect x="1595" y="66" width="2" height="1" fill="#000"/>
<rect x="1595" y="99" width="2" height="1" fill="#000"/>
<rect x="1595" y="132" width="2" height="1" fill="#000"/>
<rect x="1595" y="165" width="2" height="1" fill="#000"/>
<rect x="1595" y="198" width="2" height="1" fill="#000"/>
<rect x="1595" y="231" width="2" height="1" fill="#000"/>
<rect x="1595" y="264" width="2" height="1" fill="#000"/>
<rect x="1595" y="297" width="2" height="1" fill="#000"/>
<rect x="1595" y="330" width="2" height="1" fill="#000"/>
<rect x="1595" y="363" width="2" height="1" fill="#000"/>
<rect x="1595" y="396" width="2" height="1" fill="#000"/>
<rect x="1595" y="429" width="2" height="1" fill="#000"/>
<rect x="1595" y="462" width="2" height="1" fill="#000"/>
<rect x="1595" y="495" width="2" height="1" fill="#000"/>
<rect x="1595" y="528" width="2" height="1" fill="#000"/>
<rect x="1595" y="535" width="1" height="1" fill="#000"/>
<rect x="1595" y="624" width="1" height="1" fill="#000"/>
<rect x="1595" y="629" width="1" height="1" fill="#000"/>
<rect x="1595" y="718" width="1" height="1" fill="#000"/>
<rect x="1595" y="664" width="2" height="1" fill="#000"/>
<rect x="2" y="720" width="1" height="3" fill="#000"/>
<rect x="66" y="720" width="1" height="3" fill="#000"/>
<rect x="130" y="720" width="1" height="3" fill="#000"/>
<rect x="194" y="720" width="1" height="3" fill="#000"/>
<rect x="258" y="720" width="1" height="3" fill="#000"/>
<rect x="322" y="720" width="1" height="3" fill="#000"/>
<rect x="386" y="720" width="1" height="3" fill="#000"/>
<rect x="450" y="720" width="1" height="3" fill="#000"/>
<rect x="514" y="720" width="1" height="3" fill="#000"/>
<rect x="578" y="720" width="1" height="3" fill="#000"/>
<rect x="642" y="720" width="1" height="3" fill="#000"/>
<rect x="706" y="720" width="1" height="3" fill="#000"/>
<rect x="770" y="720" width="1" height="3" fill="#000"/>
<rect x="834" y="720" width="1" height="3" fill="#000"/>
<rect x="898" y="720" width="1" height="3" fill="#000"/>
<rect x="962" y="720" width="1" height="3" fill="#000"/>
<rect x="1026" y="720" width="1" height="3" fill="#000"/>
<rect x="1090" y="720" width="1" height="3" fill="#000"/>
<rect x="1154" y="720" width="1" height="3" fill="#000"/>
<rect x="1218" y="720" width="1" height="3" fill="#000"/>
<rect x="0" y="740" width="1636" height="1" fill="#e8e8e8"/>
<rect x="0" y="742" width="1636" height="1" fill="#000"/>
<rect x="0" y="743" width="1636" height="1" fill="#fafafa"/>
<rect x="0" y="744" width="1636" height="18" fill="#f0f0f0"/>
<rect x="0" y="762" width="1636" height="1" fill="#ffffff"/>
<rect x="0" y="763" width="1636" height="1" fill="#f0f0f0"/>
<rect x="206" y="743" width="1" height="19" fill="#fafafa"/>
<rect x="208" y="741" width="102" height="19" fill="#fff"/>
<rect x="207" y="742" width="1" height="19" fill="#000"/>
<rect x="310" y="742" width="1" height="19" fill="#000"/>
<rect x="207" y="760" width="104" height="1" fill="#000"/>
<rect x="208" y="761" width="104" height="1" fill="#b0b0b0"/>
<rect x="311" y="744" width="1" height="18" fill="#b0b0b0"/>
<rect x="107" y="745" width="1" height="14" fill="#606060"/>
<rect x="415" y="745" width="1" height="14" fill="#606060"/>
<rect x="519" y="745" width="1" height="14" fill="#606060"/>
<rect x="619" y="745" width="1" height="14" fill="#606060"/>
<rect x="719" y="745" width="1" height="14" fill="#606060"/>
<rect x="823" y="745" width="1" height="14" fill="#606060"/>
<rect x="895" y="745" width="1" height="14" fill="#606060"/>
<rect x="975" y="745" width="1" height="14" fill="#606060"/>
<rect x="1055" y="745" width="1" height="14" fill="#606060"/>
<rect x="1135" y="745" width="1" height="14" fill="#606060"/>
<rect x="1211" y="745" width="1" height="14" fill="#606060"/>
<rect x="1295" y="745" width="1" height="14" fill="#606060"/>
<rect x="1379" y="745" width="1" height="14" fill="#606060"/>
<rect x="1459" y="745" width="1" height="14" fill="#606060"/>
<rect x="1559" y="745" width="1" height="14" fill="#606060"/>
<rect x="1612" y="748" width="1" height="6" fill="#a0a0a0"/>
<rect x="1629" y="748" width="1" height="6" fill="#a0a0a0"/>
<rect x="1611" y="749" width="1" height="4" fill="#a0a0a0"/>
<rect x="1630" y="749" width="1" height="4" fill="#a0a0a0"/>
<rect x="1610" y="750" width="1" height="2" fill="#a0a0a0"/>
<rect x="1631" y="750" width="1" height="2" fill="#a0a0a0"/>
</g>
<text transform="translate(41.5,13) scale(0.9,1)" class="tb">M1</text>
<text transform="translate(69.5,13) scale(0.9,1)" class="tb">M5</text>
<text transform="translate(95.5,13) scale(0.9,1)" class="tb">M15</text>
<text transform="translate(123.5,13) scale(0.9,1)" class="tb">M30</text>
<text transform="translate(154.5,13) scale(0.9,1)" class="tb">H1</text>
<text transform="translate(181.5,13) scale(0.9,1)" class="tb">H4</text>
<text transform="translate(210.5,13) scale(0.9,1)" class="tb">D1</text>
<text transform="translate(238,13) scale(0.9,1)" class="tb">W1</text>
<text transform="translate(264.5,13) scale(0.9,1)" class="tb">MN</text>
<path d="M5 32 L12 32 L8.5 36 Z" fill="#000"/>
<text transform="translate(17.3,37) scale(0.975,1)">AUDUSD,Daily</text>
<text transform="translate(88.7,37) scale(0.9,1)">0<tspan dx="0.5">.</tspan><tspan dx="0.5">7</tspan>1344 0<tspan dx="0.5">.</tspan><tspan dx="0.5">7</tspan>1349 0<tspan dx="0.5">.</tspan><tspan dx="0.5">7</tspan>0928 0<tspan dx="0.5">.</tspan><tspan dx="0.5">7</tspan>1121</text>
<text transform="translate(5.8,546) scale(0.932,1)">RSI(14) 70.2440</text>
<text transform="translate(5.8,640) scale(0.934,1)">MACD(12,26,9) 0.006222 0.004794</text>
<text transform="translate(1599.8,37) scale(0.9,1)">0<tspan dx="0.5">.</tspan><tspan dx="0.5">7</tspan>2405</text>
<text transform="translate(1599.8,70) scale(0.9,1)">0<tspan dx="0.5">.</tspan><tspan dx="0.5">7</tspan>1215</text>
<text transform="translate(1599.8,103) scale(0.9,1)">0<tspan dx="0.5">.</tspan><tspan dx="0.5">7</tspan>0060</text>
<text transform="translate(1599.8,136) scale(0.9,1)">0<tspan dx="0.5">.</tspan><tspan dx="0.5">6</tspan>8870</text>
<text transform="translate(1599.8,169) scale(0.9,1)">0<tspan dx="0.5">.</tspan><tspan dx="0.5">6</tspan>7715</text>
<text transform="translate(1599.8,202) scale(0.9,1)">0<tspan dx="0.5">.</tspan><tspan dx="0.5">6</tspan>6525</text>
<text transform="translate(1599.8,235) scale(0.9,1)">0<tspan dx="0.5">.</tspan><tspan dx="0.5">6</tspan>5335</text>
<text transform="translate(1599.8,268) scale(0.9,1)">0<tspan dx="0.5">.</tspan><tspan dx="0.5">6</tspan>4180</text>
<text transform="translate(1599.8,301) scale(0.9,1)">0<tspan dx="0.5">.</tspan><tspan dx="0.5">6</tspan>2990</text>
<text transform="translate(1599.8,334) scale(0.9,1)">0<tspan dx="0.5">.</tspan><tspan dx="0.5">6</tspan>1800</text>
<text transform="translate(1599.8,367) scale(0.9,1)">0<tspan dx="0.5">.</tspan><tspan dx="0.5">6</tspan>0645</text>
<text transform="translate(1599.8,400) scale(0.9,1)">0<tspan dx="0.5">.</tspan><tspan dx="0.5">5</tspan>9455</text>
<text transform="translate(1599.8,433) scale(0.9,1)">0<tspan dx="0.5">.</tspan><tspan dx="0.5">5</tspan>8300</text>
<text transform="translate(1599.8,466) scale(0.9,1)">0<tspan dx="0.5">.</tspan><tspan dx="0.5">5</tspan>7110</text>
<text transform="translate(1599.8,499) scale(0.9,1)">0<tspan dx="0.5">.</tspan><tspan dx="0.5">5</tspan>5920</text>
<text transform="translate(1599.8,532) scale(0.9,1)">0<tspan dx="0.5">.</tspan><tspan dx="0.5">5</tspan>4765</text>
<g class="g">
<rect x="1596" y="39" width="40" height="11" fill="#ff0000"/>
<rect x="1596" y="65" width="40" height="11" fill="#ff0000"/>
<rect x="1596" y="95" width="40" height="11" fill="#00ff00"/>
<rect x="1596" y="122" width="40" height="11" fill="#0000ff"/>
<rect x="1596" y="150" width="40" height="11" fill="#0000ff"/>
<rect x="1596" y="187" width="40" height="11" fill="#0000ff"/>
<rect x="1596" y="234" width="40" height="11" fill="#0000ff"/>
</g>
<text transform="translate(1599.8,48) scale(0.9,1)" style="fill:#fff;stroke:#fff">0<tspan dx="0.5">.</tspan><tspan dx="0.5">7</tspan>2001</text>
<text transform="translate(1599.8,74) scale(0.9,1)" style="fill:#fff;stroke:#fff">0<tspan dx="0.5">.</tspan><tspan dx="0.5">7</tspan>1046</text>
<text transform="translate(1599.8,104) scale(0.9,1)" style="fill:#fff;stroke:#fff">0<tspan dx="0.5">.</tspan><tspan dx="0.5">7</tspan>0007</text>
<text transform="translate(1599.8,131) scale(0.9,1)" style="fill:#fff;stroke:#fff">0<tspan dx="0.5">.</tspan><tspan dx="0.5">6</tspan>9010</text>
<text transform="translate(1599.8,159) scale(0.9,1)" style="fill:#fff;stroke:#fff">0<tspan dx="0.5">.</tspan><tspan dx="0.5">6</tspan>8017</text>
<text transform="translate(1599.8,196) scale(0.9,1)" style="fill:#fff;stroke:#fff">0<tspan dx="0.5">.</tspan><tspan dx="0.5">6</tspan>6706</text>
<text transform="translate(1599.8,243) scale(0.9,1)" style="fill:#fff;stroke:#fff">0<tspan dx="0.5">.</tspan><tspan dx="0.5">6</tspan>5020</text>
<text transform="translate(1597.6,544) scale(0.9,1)">100</text>
<text transform="translate(1597.6,565) scale(0.9,1)">70</text>
<text transform="translate(1597.6,601) scale(0.9,1)">30</text>
<text transform="translate(1597.6,622) scale(0.9,1)">0</text>
<text transform="translate(1597.6,638) scale(0.9,1)">0<tspan dx="0.5">.</tspan><tspan dx="0.5">0</tspan>15741</text>
<text transform="translate(1597.6,668) scale(0.9,1)">0<tspan dx="0.5">.</tspan><tspan dx="0.5">0</tspan>0</text>
<text transform="translate(1597.6,716) scale(0.9,1)">-0<tspan dx="0.5">.</tspan><tspan dx="0.5">0</tspan>24412</text>
<text transform="translate(1.3,732) scale(0.915,1)">23 Jan 2020</text>
<text transform="translate(65.3,732) scale(0.915,1)">1 Feb 2020</text>
<text transform="translate(129.3,732) scale(0.915,1)">11 Feb 2020</text>
<text transform="translate(193.3,732) scale(0.915,1)">20 Feb 2020</text>
<text transform="translate(257.3,732) scale(0.915,1)">29 Feb 2020</text>
<text transform="translate(321.3,732) scale(0.915,1)">10 Mar 2020</text>
<text transform="translate(385.3,732) scale(0.915,1)">19 Mar 2020</text>
<text transform="translate(449.3,732) scale(0.915,1)">28 Mar 2020</text>
<text transform="translate(513.3,732) scale(0.915,1)">7 Apr 2020</text>
<text transform="translate(577.3,732) scale(0.915,1)">16 Apr 2020</text>
<text transform="translate(641.3,732) scale(0.915,1)">25 Apr 2020</text>
<text transform="translate(705.3,732) scale(0.915,1)">5 May 2020</text>
<text transform="translate(769.3,732) scale(0.915,1)">14 May 2020</text>
<text transform="translate(833.3,732) scale(0.915,1)">23 May 2020</text>
<text transform="translate(897.3,732) scale(0.915,1)">2 Jun 2020</text>
<text transform="translate(961.3,732) scale(0.915,1)">11 Jun 2020</text>
<text transform="translate(1025.3,732) scale(0.915,1)">20 Jun 2020</text>
<text transform="translate(1089.3,732) scale(0.915,1)">30 Jun 2020</text>
<text transform="translate(1153.3,732) scale(0.915,1)">9 Jul 2020</text>
<text transform="translate(1217.3,732) scale(0.915,1)">18 Jul 2020</text>
<text transform="translate(15.0,757) scale(0.9041,1)" class="tab">EURUSD,Daily</text>
<text transform="translate(117.0,757) scale(0.9142,1)" class="tab">USDCHF,Daily</text>
<text transform="translate(218.0,757) scale(0.9268,1)" class="tab" style="fill:#000;stroke:none">AUDUSD,Daily</text>
<text transform="translate(322.0,757) scale(0.9177,1)" class="tab">USDCAD,Daily</text>
<text transform="translate(424.6,757) scale(0.9393,1)" class="tab">USDCNH,Daily</text>
<text transform="translate(530.0,757) scale(0.92,1)" class="tab">EURUSD,M15</text>
<text transform="translate(630.6,757) scale(0.9164,1)" class="tab">GBPUSD,M30</text>
<text transform="translate(730.0,757) scale(0.9292,1)" class="tab">XAUUSD,Daily</text>
<text transform="translate(834.2,757) scale(0.9372,1)" class="tab">HK50,H1</text>
<text transform="translate(906.6,757) scale(0.93,1)" class="tab">UK100,H1</text>
<text transform="translate(986.0,757) scale(0.9384,1)" class="tab">UK100,H1</text>
<text transform="translate(1066.6,757) scale(0.8946,1)" class="tab">GER30,H1</text>
<text transform="translate(1144.4,757) scale(0.91,1)" class="tab">FRA40,H1</text>
<text transform="translate(1221.4,757) scale(0.9441,1)" class="tab">USOil,Daily</text>
<text transform="translate(1305.2,757) scale(0.8941,1)" class="tab">USDJPY,H1</text>
<text transform="translate(1389.8,757) scale(0.9558,1)" class="tab">DJ30,M15</text>
<text transform="translate(1469.6,757) scale(0.9503,1)" class="tab">CHINA300,H4</text>
</svg></body></html>
